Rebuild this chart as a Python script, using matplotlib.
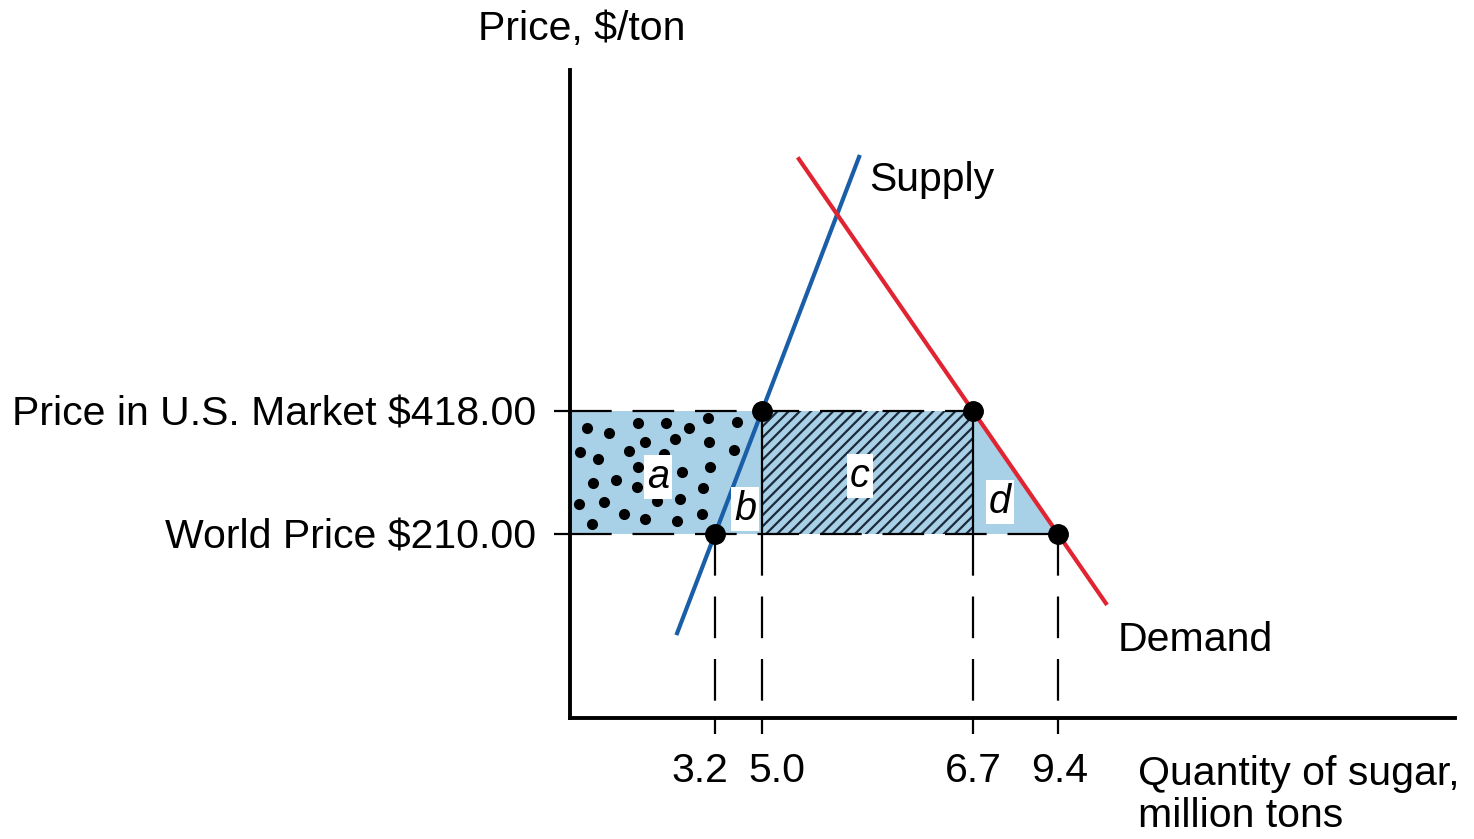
import numpy as np
import matplotlib.pyplot as plt
from matplotlib.patches import Polygon

plt.rcParams['font.family'] = ['Liberation Sans', 'DejaVu Sans']
plt.rcParams['lines.scale_dashes'] = False
plt.rcParams['hatch.linewidth'] = 1.6

# values (it is drawn schematically, not to scale)
quantities = [3.2, 5.0, 6.7, 9.4]       # Qs world, Qs US, Qd US, Qd world
quantity_labels = ['3.2', '5.0', '6.7', '9.4']
world_price = 210.0
us_price = 418.0
price_labels = ['World Price $210.00', 'Price in U.S. Market $418.00']
supply_span = [39, 851]      # price range the supply curve is drawn over
demand_span = [90, 847]      # price range the demand curve is drawn over
area_labels = ['a', 'b', 'c', 'd']

# where each quantity sits on the schematic x axis (axis units)
qx = [145, 192, 403, 488]
# label anchor points (x axis units, price)
area_xy = [(88, 306), (175, 252), (290, 308), (430, 264)]
# dot texture of area a (x axis units, price)
dots = np.array([
    (16.7, 390), (39.3, 380), (67.7, 398), (96, 397), (119, 390), (137.7, 406), (167.3, 399),
    (10, 349), (28.3, 337), (59.3, 351), (75.3, 365), (105, 370), (139.3, 366), (164, 352),
    (94.3, 345), (68.3, 323), (111.7, 315), (140, 324),
    (23.3, 296), (46, 302), (66.7, 290), (132.7, 287),
    (9.3, 260), (34, 264), (86.7, 265), (110, 269),
    (21.7, 227), (54, 244), (75.3, 236), (106.7, 232), (132, 243),
])

light_blue = '#a8d0e6'
hatch_col = '#1b2a3a'
blue = '#1b5ea8'
red = '#e12431'
fs = 29.5

fig = plt.figure(figsize=(14.74, 8.39), dpi=100)
ax = fig.add_axes([570 / 1474, 121 / 839, 885 / 1474, 648 / 839])
ax.set_xlim(0, 885)
ax.set_ylim(-101.2, 994.7)

dp = us_price - world_price


def supply_x(p):
    return qx[0] + (np.asarray(p) - world_price) * (qx[1] - qx[0]) / dp


def demand_x(p):
    return qx[3] + (np.asarray(p) - world_price) * (qx[2] - qx[3]) / dp


# shaded areas
ax.add_patch(Polygon([(0, world_price), (qx[1], world_price), (qx[1], us_price), (0, us_price)],
                     closed=True, facecolor=light_blue, edgecolor='none', zorder=1))
ax.add_patch(Polygon([(qx[1], world_price), (qx[2], world_price), (qx[2], us_price), (qx[1], us_price)],
                     closed=True, facecolor=light_blue, edgecolor=hatch_col, lw=0, hatch='///', zorder=1))
ax.add_patch(Polygon([(qx[2], us_price), (qx[2], world_price), (qx[3], world_price)],
                     closed=True, facecolor=light_blue, edgecolor='none', zorder=1))

# dots of area a, kept left of the supply curve
keep = dots[:, 0] < supply_x(dots[:, 1]) - 8
ax.scatter(dots[keep, 0], dots[keep, 1], s=8 ** 2, color='black', lw=0, zorder=2)

# dashed guide lines
dash = dict(color='black', lw=1.6, dashes=(30, 15), zorder=3, clip_on=False)
ax.plot([0, qx[2]], [us_price, us_price], **dash)
ax.plot([0, qx[3]], [world_price, world_price], **dash)
ax.plot([qx[0], qx[0]], [world_price, -101.2], **dash)
ax.plot([qx[1], qx[1]], [world_price, -101.2], **dash)
ax.plot([qx[2], qx[2]], [world_price, -101.2], **dash)
ax.plot([qx[3], qx[3]], [world_price, -101.2], **dash)
ax.plot([qx[1], qx[1]], [world_price, us_price], color='black', lw=1.6, zorder=3)
ax.plot([qx[2], qx[2]], [world_price, us_price], color='black', lw=1.6, zorder=3)

# supply and demand
ax.plot(supply_x(supply_span), supply_span, color=blue, lw=3, solid_capstyle='butt', zorder=4)
ax.plot(demand_x(demand_span), demand_span, color=red, lw=3, solid_capstyle='butt', zorder=4)

ax.plot([qx[0], qx[1], qx[2], qx[3]], [world_price, us_price, us_price, world_price],
        'o', color='black', ms=14, zorder=5, clip_on=False)

for lab, (x, y) in zip(area_labels, area_xy):
    ax.text(x, y, lab, fontsize=fs - 1, style='italic', ha='center', va='center', zorder=6,
            bbox=dict(boxstyle='square,pad=0.08', facecolor='white', edgecolor='none'))

ax.text(299, 809, 'Supply', fontsize=fs, ha='left', va='center')
ax.text(548, 31, 'Demand', fontsize=fs, ha='left', va='center')

# axes
for side in ['top', 'right']:
    ax.spines[side].set_visible(False)
for side in ['left', 'bottom']:
    ax.spines[side].set_linewidth(2.8)
ax.set_xticks(qx, labels=[''] * 4)
ax.set_yticks([world_price, us_price], labels=price_labels, fontsize=fs)
ax.tick_params(axis='both', direction='out', length=11.5, width=1.6, color='black')
ax.tick_params(axis='y', pad=13)

label_dx = [-11, 11, 0, 1]
for x, lab, dx in zip(qx, quantity_labels, label_dx):
    ax.annotate(lab, xy=(x, 0), xycoords=('data', 'axes fraction'), xytext=(dx, -46),
                textcoords='offset points', ha='center', va='baseline', fontsize=fs)

fig.text(582 / 1474, 1 - 40 / 839, 'Price, $/ton', fontsize=fs, ha='center', va='baseline')
fig.text(1138 / 1474, 1 - 827 / 839, 'Quantity of sugar,\nmillion tons', fontsize=fs,
         ha='left', va='baseline', linespacing=1.12)

fig.savefig('out.png', dpi=100)
